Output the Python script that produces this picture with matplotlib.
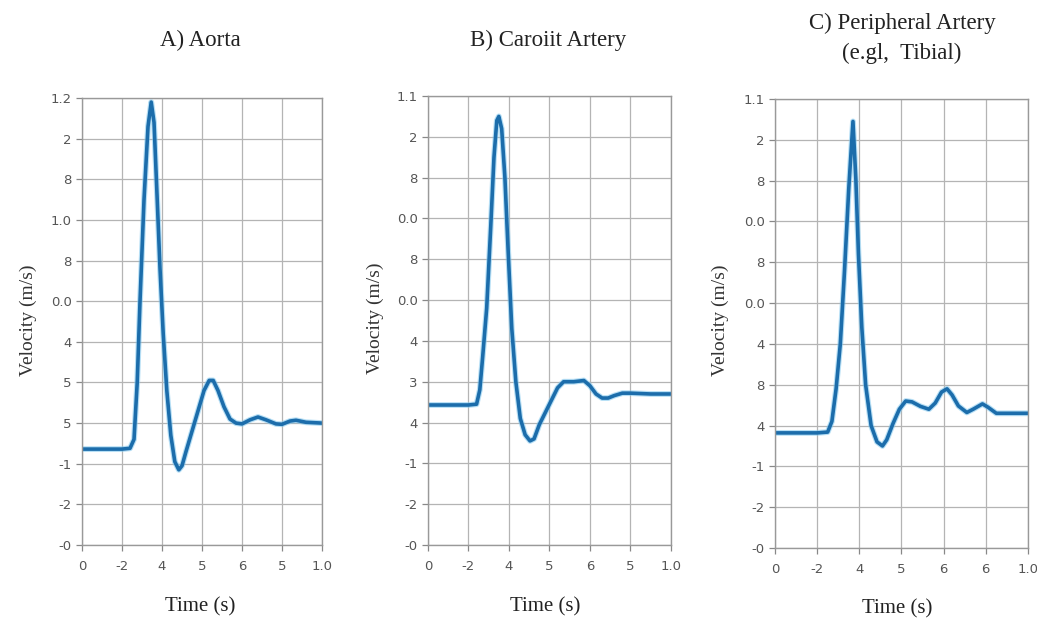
import numpy as np
import matplotlib
matplotlib.use('Agg')
from matplotlib import pyplot as plt

# panel titles
titles = ['A) Aorta', 'B) Caroiit Artery', 'C) Peripheral Artery\n(e.gl,  Tibial)']

# tick labels (as printed on the original figure)
xLabelsA = ['0', '-2', '4', '5', '6', '5', '1.0']
xLabelsB = ['0', '-2', '4', '5', '6', '5', '1.0']
xLabelsC = ['0', '-2', '4', '5', '6', '6', '1.0']
yLabelsA = ['-0', '-2', '-1', '5', '5', '4', '0.0', '8', '1.0', '8', '2', '1.2']
yLabelsB = ['-0', '-2', '-1', '4', '3', '4', '0.0', '8', '0.0', '8', '2', '1.1']
yLabelsC = ['-0', '-2', '-1', '4', '8', '4', '0.0', '8', '0.0', '8', '2', '1.1']

# waveforms, in grid units (x: 0..6, y: 0..11)
timeA = [0.0, 0.5, 1.0, 1.2, 1.3, 1.38, 1.45, 1.55, 1.65, 1.73, 1.8, 1.88, 1.95,
         2.03, 2.12, 2.22, 2.32, 2.42, 2.5, 2.6, 2.75, 2.9, 3.05, 3.18, 3.28,
         3.4, 3.55, 3.7, 3.85, 4.0, 4.2, 4.4, 4.6, 4.85, 5.0, 5.2, 5.35, 5.6, 6.0]
velA = [2.36, 2.36, 2.36, 2.38, 2.6, 4.0, 6.0, 8.5, 10.3, 10.9, 10.4, 8.5, 6.8,
        5.2, 3.8, 2.7, 2.05, 1.85, 1.95, 2.3, 2.8, 3.3, 3.8, 4.05, 4.05,
        3.8, 3.4, 3.1, 3.0, 2.98, 3.08, 3.15, 3.08, 2.98, 2.97, 3.05, 3.07, 3.02, 3.0]

timeB = [0.0, 0.5, 1.0, 1.2, 1.28, 1.35, 1.45, 1.55, 1.63, 1.7, 1.75, 1.82, 1.9,
         1.98, 2.07, 2.17, 2.28, 2.4, 2.52, 2.62, 2.75, 2.9, 3.05, 3.2, 3.35,
         3.6, 3.85, 4.0, 4.15, 4.3, 4.45, 4.6, 4.8, 5.0, 5.5, 6.0]
velB = [3.43, 3.43, 3.43, 3.45, 3.8, 4.6, 5.8, 7.8, 9.5, 10.4, 10.5, 10.2, 9.0,
        7.2, 5.3, 4.0, 3.1, 2.7, 2.55, 2.6, 2.95, 3.25, 3.55, 3.85, 4.0,
        4.0, 4.03, 3.9, 3.7, 3.6, 3.6, 3.66, 3.72, 3.72, 3.7, 3.7]

timeC = [0.0, 0.5, 1.0, 1.25, 1.35, 1.45, 1.55, 1.65, 1.75, 1.85, 1.92, 1.98,
         2.06, 2.15, 2.28, 2.42, 2.55, 2.65, 2.8, 2.95, 3.1, 3.25, 3.45, 3.65,
         3.8, 3.95, 4.08, 4.2, 4.35, 4.55, 4.7, 4.92, 5.05, 5.25, 5.5, 6.0]
velC = [2.82, 2.82, 2.82, 2.84, 3.1, 3.9, 5.0, 6.8, 8.8, 10.45, 9.0, 7.2,
        5.4, 4.0, 3.0, 2.6, 2.5, 2.65, 3.05, 3.4, 3.6, 3.58, 3.47, 3.4,
        3.55, 3.82, 3.9, 3.75, 3.48, 3.32, 3.4, 3.53, 3.45, 3.3, 3.3, 3.3]

serif = 'Liberation Serif'
lineColor = '#1c6dab'

fig = plt.figure(figsize=(10.37, 6.25), dpi=100)

# axes rectangles in figure fractions
rects = [[0.0791, 0.128, 0.2314, 0.7152],
         [0.4127, 0.128, 0.2343, 0.7184],
         [0.7473, 0.1232, 0.2440, 0.7184]]
panels = [(timeA, velA, xLabelsA, yLabelsA),
          (timeB, velB, xLabelsB, yLabelsB),
          (timeC, velC, xLabelsC, yLabelsC)]

titlePos = [(200, 40), (548, 40), (902, 38)]
ylabelPos = [(28, 320), (375, 318), (720, 320)]
xlabelPos = [(200, 607), (545, 607), (897, 609)]

for i in range(3):
  t, v, xl, yl = panels[i]
  ax = fig.add_axes(rects[i])
  ax.plot(t, v, color='#7cc6ee', lw=4.2, alpha=0.55, solid_capstyle='round')
  ax.plot(t, v, color=lineColor, lw=2.6, solid_joinstyle='round')
  ax.set_xlim(0, 6)
  ax.set_ylim(0, 11)
  ax.set_xticks(np.arange(7))
  ax.set_xticklabels(xl)
  ax.set_yticks(np.arange(12))
  ax.set_yticklabels(yl)
  ax.grid(True, color='#b4b4b4', lw=0.9)
  ax.set_axisbelow(True)
  for s in ax.spines.values():
    s.set_color('#999999')
    s.set_linewidth(1.0)
  ax.tick_params(colors='#888888', labelcolor='#555555', labelsize=9.5,
                 length=4, width=0.9)
  ax.tick_params(axis='x', pad=7)

  tx, ty = titlePos[i]
  fig.text(tx / 1037, 1 - ty / 625, titles[i], ha='center', va='center',
           family=serif, fontsize=16.5, color='#222222', linespacing=1.55)
  lx, ly = ylabelPos[i]
  fig.text(lx / 1037, 1 - ly / 625, 'Velocity (m/s)', ha='center', va='center',
           rotation=90, family=serif, fontsize=14, color='#333333')
  bx, by = xlabelPos[i]
  fig.text(bx / 1037, 1 - by / 625, 'Time (s)', ha='center', va='center',
           family=serif, fontsize=15, color='#222222')

plt.savefig('out.png', dpi=100)
